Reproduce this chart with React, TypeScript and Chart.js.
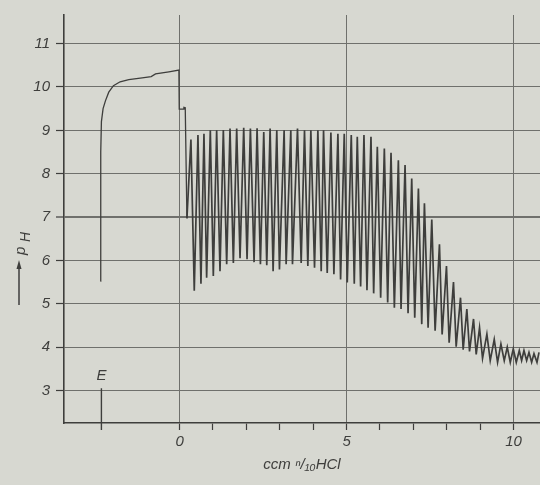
import { useEffect, useRef } from "react";
import { Chart, registerables } from "chart.js";

Chart.register(...registerables);

// Initial rise (before HCl addition) and first drop at 0 ccm
const riseX = [-2.37, -2.36, -2.34, -2.29, -2.22, -2.12, -1.98, -1.78, -1.52, -1.12, -0.85, -0.72, -0.32, -0.02, -0.01, 0.12, 0.13, 0.17];
const riseY = [5.52, 8.5, 9.2, 9.5, 9.68, 9.88, 10.03, 10.12, 10.17, 10.21, 10.24, 10.3, 10.35, 10.39, 9.49, 9.49, 9.53, 9.52];

// Oscillation maxima
const peakX = [0.34, 0.55, 0.73, 0.92, 1.11, 1.31, 1.51, 1.71, 1.92, 2.12, 2.32, 2.52, 2.71, 2.91, 3.13, 3.33, 3.53, 3.74, 3.93, 4.14, 4.31, 4.53, 4.74, 4.93, 5.14, 5.32, 5.52, 5.73, 5.92, 6.13, 6.33, 6.55, 6.75, 6.95, 7.15, 7.33, 7.55, 7.78, 7.99, 8.2, 8.41, 8.6, 8.8, 8.98, 9.2, 9.42, 9.62, 9.81, 9.99, 10.17, 10.31, 10.46, 10.61, 10.76];
const peakY = [8.79, 8.89, 8.92, 9.0, 9.0, 9.01, 9.04, 9.04, 9.06, 9.04, 9.05, 8.96, 9.04, 9.0, 9.0, 9.0, 9.04, 9.0, 9.0, 9.0, 9.0, 8.95, 8.92, 8.92, 8.89, 8.85, 8.89, 8.85, 8.62, 8.58, 8.48, 8.31, 8.2, 7.89, 7.66, 7.32, 6.94, 6.37, 5.87, 5.5, 5.14, 4.88, 4.65, 4.45, 4.3, 4.18, 4.07, 4.0, 3.96, 3.92, 3.92, 3.88, 3.85, 3.88];

// Oscillation minima (each one precedes the maximum of the same index)
const troughX = [0.22, 0.44, 0.64, 0.81, 1.01, 1.21, 1.41, 1.61, 1.81, 2.02, 2.23, 2.42, 2.61, 2.8, 2.99, 3.19, 3.38, 3.64, 3.84, 4.04, 4.24, 4.42, 4.62, 4.82, 5.02, 5.23, 5.42, 5.61, 5.81, 6.02, 6.23, 6.43, 6.63, 6.84, 7.04, 7.25, 7.44, 7.65, 7.86, 8.07, 8.28, 8.49, 8.68, 8.88, 9.07, 9.3, 9.52, 9.72, 9.9, 10.08, 10.24, 10.39, 10.54, 10.7];
const troughY = [6.97, 5.3, 5.46, 5.6, 5.64, 5.75, 5.91, 5.94, 6.05, 6.03, 5.96, 5.91, 5.89, 5.75, 5.79, 5.91, 5.91, 5.94, 5.87, 5.83, 5.75, 5.71, 5.68, 5.56, 5.49, 5.46, 5.4, 5.31, 5.24, 5.14, 5.03, 4.91, 4.88, 4.78, 4.68, 4.53, 4.45, 4.38, 4.29, 4.1, 4.01, 3.94, 3.9, 3.83, 3.74, 3.69, 3.65, 3.69, 3.65, 3.65, 3.69, 3.69, 3.65, 3.65];

// Axis ticks and labels
const yTicks = [3, 4, 5, 6, 7, 8, 9, 10, 11];
const xTicks = [0, 1, 2, 3, 4, 5, 6, 7, 8, 9, 10];
const xLabeled = [0, 5, 10];
const xTitle = "ccm ⁿ/₁₀HCl";
const yTitleP = "p";
const yTitleH = "H";

// Endpoint marker "E"
const markerLabel = "E";
const markerX = [-2.34, -2.34];
const markerY = [3.05, 2.09];
const markerLabelY = 3.33;

const PAPER = "#d7d8d1";
const INK = "#3e3e3c";
const GRID = "#6f706c";
const FONT = "Liberation Sans";

export default function App() {
  const ref = useRef<HTMLCanvasElement>(null);

  useEffect(() => {
    if (!ref.current) return;
    const osc: { x: number; y: number }[] = [];
    for (let i = 0; i < peakX.length; i++) {
      osc.push({ x: troughX[i], y: troughY[i] });
      osc.push({ x: peakX[i], y: peakY[i] });
    }
    const rise = riseX.map((x, i) => ({ x, y: riseY[i] }));
    rise.push(osc[0]);
    const marker = markerX.map((x, i) => ({ x, y: markerY[i] }));

    const bgPlugin = {
      id: "paper",
      beforeDraw(chart: any) {
        const { ctx, width, height } = chart;
        ctx.save();
        ctx.fillStyle = PAPER;
        ctx.fillRect(0, 0, width, height);
        ctx.restore();
      },
    };

    const labelPlugin = {
      id: "labels",
      afterDraw(chart: any) {
        const { ctx, scales } = chart;
        ctx.save();
        ctx.fillStyle = INK;
        ctx.strokeStyle = INK;
        // E label above marker
        ctx.font = `italic 15px "${FONT}"`;
        ctx.textAlign = "center";
        ctx.textBaseline = "middle";
        ctx.fillText(markerLabel, scales.x.getPixelForValue(markerX[0]), scales.y.getPixelForValue(markerLabelY));
        // y axis title: arrow and p_H
        const ax = 19;
        const yMid = (chart.chartArea.top + chart.chartArea.bottom) / 2;
        const yBot = yMid + 86;
        const yTip = yMid + 41;
        ctx.lineWidth = 1.5;
        ctx.beginPath();
        ctx.moveTo(ax, yBot);
        ctx.lineTo(ax, yTip + 6);
        ctx.stroke();
        ctx.beginPath();
        ctx.moveTo(ax, yTip);
        ctx.lineTo(ax - 2.5, yTip + 9);
        ctx.lineTo(ax + 2.5, yTip + 9);
        ctx.closePath();
        ctx.fill();
        ctx.translate(21, yMid + 36);
        ctx.rotate(-Math.PI / 2);
        ctx.textAlign = "left";
        ctx.fillText(yTitleP, 0, 0);
        ctx.font = `italic 14px "${FONT}"`;
        ctx.fillText(yTitleH, 13, 5);
        ctx.restore();
      },
    };

    const chart = new Chart(ref.current, {
      type: "line",
      data: {
        datasets: [
          { data: rise, borderColor: INK, borderWidth: 1.3, pointRadius: 0, tension: 0 },
          { data: osc, borderColor: INK, borderWidth: 1.7, pointRadius: 0, tension: 0 },
          { data: marker, borderColor: INK, borderWidth: 1.4, pointRadius: 0, clip: false as any },
        ],
      },
      options: {
        animation: false,
        responsive: false,
        layout: { padding: { top: 12, left: 0, right: 0, bottom: 0 } },
        plugins: { legend: { display: false }, tooltip: { enabled: false } },
        scales: {
          x: {
            type: "linear",
            min: -3.46,
            max: 10.79,
            afterBuildTicks: (s: any) => {
              s.ticks = xTicks.map((v) => ({ value: v }));
            },
            afterFit: (s: any) => {
              s.height = 62;
            },
            grid: {
              color: (c: any) => (xLabeled.includes(c.tick?.value) ? GRID : "rgba(0,0,0,0)"),
              lineWidth: 1,
              tickColor: INK,
              tickLength: 7,
              tickWidth: 1.2,
            },
            border: { display: true, color: INK, width: 1.6 },
            ticks: {
              autoSkip: false,
              maxRotation: 0,
              padding: 3,
              color: INK,
              font: { family: FONT, size: 15, style: "italic" },
              callback: (v: any) => (xLabeled.includes(Number(v)) ? String(v) : ""),
            },
            title: {
              display: true,
              text: xTitle,
              color: INK,
              font: { family: FONT, size: 15, style: "italic" },
              padding: { top: 0, bottom: 11 },
            },
          },
          y: {
            type: "linear",
            min: 2.25,
            max: 11.66,
            afterBuildTicks: (s: any) => {
              s.ticks = yTicks.map((v) => ({ value: v }));
            },
            afterFit: (s: any) => {
              s.width = 64;
            },
            grid: {
              color: GRID,
              lineWidth: (c: any) => (c.tick?.value === 7 ? 2 : 1),
              tickColor: INK,
              tickLength: 8,
              tickWidth: 1.2,
            },
            border: { display: true, color: INK, width: 1.6 },
            ticks: {
              padding: 6,
              color: INK,
              font: { family: FONT, size: 15, style: "italic" },
              callback: (v: any) => String(v),
            },
          },
        },
      },
      plugins: [bgPlugin, labelPlugin],
    });
    return () => chart.destroy();
  }, []);

  return (
    <div style={{ position: "absolute", left: 0, top: 0, width: 540, height: 485 }}>
      <canvas ref={ref} width={540} height={485} style={{ display: "block" }} />
    </div>
  );
}
